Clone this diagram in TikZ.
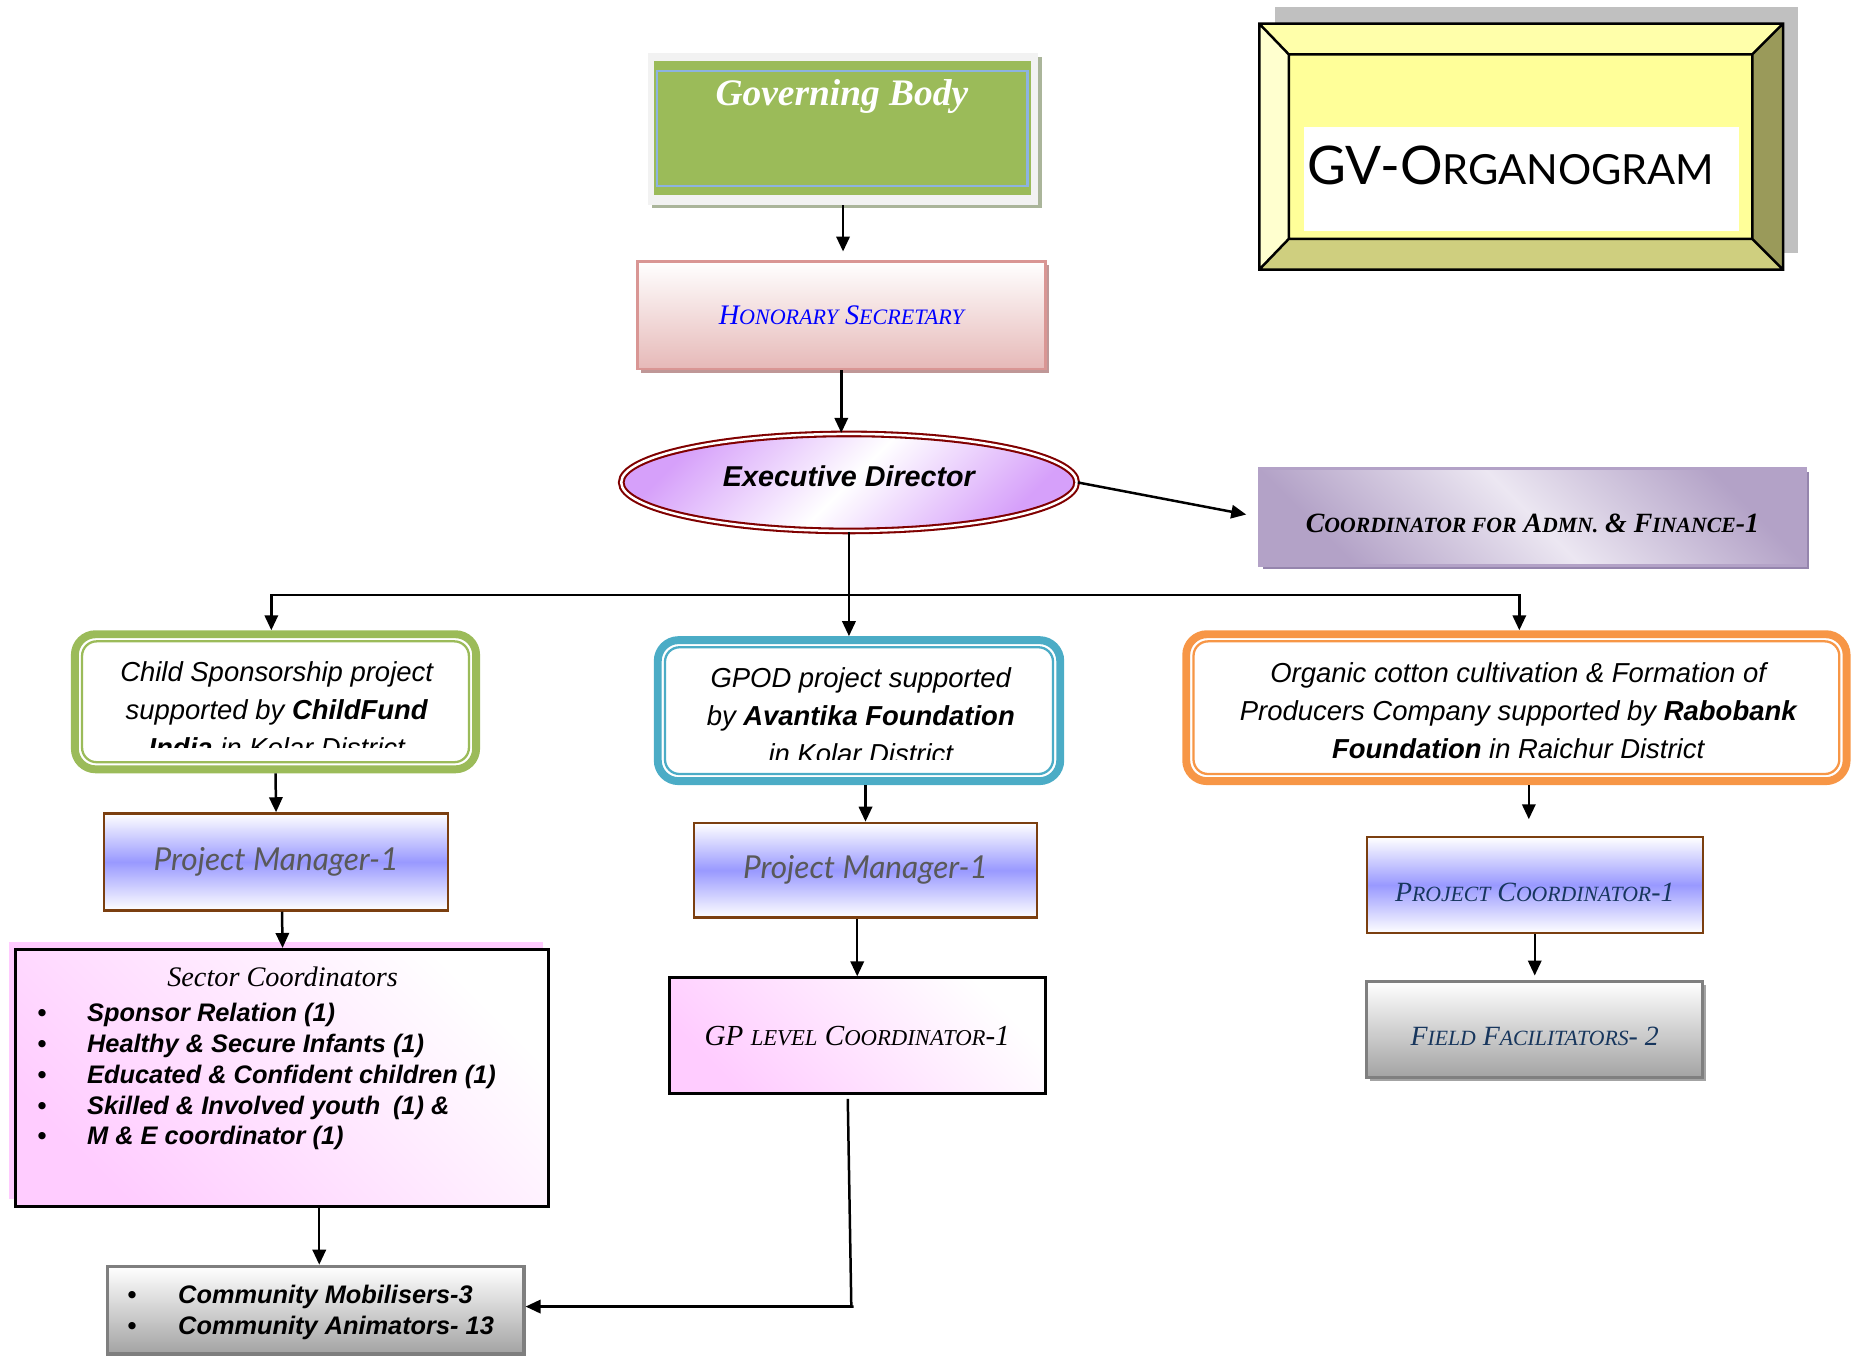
\documentclass[tikz,border=0pt]{standalone}
\usepackage{fontspec}
\setmainfont{Liberation Serif}
\setsansfont{Liberation Sans}
\newfontfamily\comicfont{Lato}
\usetikzlibrary{arrows.meta,shapes.geometric,shadows}
\makeatletter
\newdimen\fscdim
\newcommand\fsc[1]{{\fscdim=\f@size pt\relax\fscdim=0.78\fscdim\fontsize{\strip@pt\fscdim}{\f@baselineskip}\selectfont #1}}
\makeatother
\newcommand\shiftv[2]{\raisebox{#1}[\height][\depth]{#2}}
\definecolor{gbgreen}{HTML}{9BBB59}
\definecolor{gbframe}{HTML}{F2F2F2}
\definecolor{gbshadow}{HTML}{AAB59A}
\definecolor{gbline}{HTML}{8DB3E2}
\definecolor{hsborder}{HTML}{D99694}
\definecolor{hsfill}{HTML}{E6B9B8}
\definecolor{hsshadow}{HTML}{BF9797}
\definecolor{hstext}{HTML}{0000FF}
\definecolor{edred}{HTML}{800000}
\definecolor{edpurple}{HTML}{D6A0FA}
\definecolor{cadark}{HTML}{B3A2C7}
\definecolor{calight}{HTML}{ECE7F2}
\definecolor{cashadow}{HTML}{9585AD}
\definecolor{cspgreen}{HTML}{9BBB59}
\definecolor{gpodblue}{HTML}{4BACC6}
\definecolor{orgorange}{HTML}{F79646}
\definecolor{pmbrown}{HTML}{7B3F10}
\definecolor{pmblue}{HTML}{9999FF}
\definecolor{pmgrey}{HTML}{595959}
\definecolor{pinkish}{HTML}{FFCCFF}
\definecolor{greybot}{HTML}{A3A3A3}
\definecolor{greyborder}{HTML}{7F7F7F}
\definecolor{navy}{HTML}{17365D}
\definecolor{gvshadow}{HTML}{C0C0C0}
\definecolor{gvtop}{HTML}{FFFFAA}
\definecolor{gvleft}{HTML}{FFFFCF}
\definecolor{gvinner}{HTML}{FFFF99}
\definecolor{gvbottom}{HTML}{CFCF7F}
\definecolor{gvright}{HTML}{9A9A5A}
\begin{document}
\begin{tikzpicture}[x=0.01cm,y=-0.01cm,
  arr/.style={-{Triangle[length=3.6pt,width=3.2pt]}, line width=0.6pt, black},
  conn/.style={line width=0.6pt, black},
  projbox/.style={draw=#1, line width=1.9pt, rounded corners=5pt, fill=white, inner sep=0},
  projinner/.style={draw=#1, line width=0.55pt, rounded corners=3.5pt},
  projtxt/.style={font=\sffamily\itshape\fontsize{6.6}{9.1}\selectfont, align=center, inner sep=0},
  pmbox/.style={draw=pmbrown, line width=0.6pt, top color=white, bottom color=white, middle color=pmblue, inner sep=0},
  pmtxt/.style={font=\comicfont\itshape\fontsize{7.6}{9}\selectfont, text=pmgrey},
  sctxt/.style={font=\itshape\fontsize{6.8}{8}\selectfont},
  greybox/.style={draw=greyborder, line width=0.8pt, top color=white, bottom color=greybot, inner sep=0},
  listtxt/.style={font=\sffamily\bfseries\itshape\fontsize{6.1}{7.4}\selectfont, align=left, inner sep=0, anchor=north west},
]
\useasboundingbox (0,0) rectangle (1568,1147);

% ---------- GV-ORGANOGRAM ----------
\fill[gvshadow] (1078,6) rectangle (1521,214);
\fill[gvtop] (1065,20) -- (1508,20) -- (1482,46) -- (1090,46) -- cycle;
\fill[gvleft] (1065,20) -- (1090,46) -- (1090,202) -- (1065,228) -- cycle;
\fill[gvbottom] (1065,228) -- (1090,202) -- (1482,202) -- (1508,228) -- cycle;
\fill[gvright] (1508,20) -- (1482,46) -- (1482,202) -- (1508,228) -- cycle;
\fill[gvinner] (1090,46) rectangle (1482,202);
\draw[line width=0.6pt] (1065,20) rectangle (1508,228) (1090,46) rectangle (1482,202)
  (1065,20) -- (1090,46) (1508,20) -- (1482,46) (1065,228) -- (1090,202) (1508,228) -- (1482,202);
\node[fill=white, minimum width=3.68cm, minimum height=0.88cm, inner sep=0] (gvbox) at (1287,151) {};
\node[anchor=west, inner sep=0] (gvtitle) at ([shift={(3,-11)}]gvbox.west)
  {\comicfont\fontsize{12.8}{14}\selectfont GV-O\fsc{RGANOGRAM}};

% ---------- Governing Body ----------
\node[fill=gbframe, minimum width=3.30cm, minimum height=1.28cm, inner sep=0,
  drop shadow={shadow xshift=0.9pt, shadow yshift=-0.9pt, fill=gbshadow, opacity=1}] (gbf) at (713,109) {};
\node[fill=gbgreen, minimum width=3.19cm, minimum height=1.13cm, inner sep=0] (gb) at (712.5,108.5) {};
\draw[gbline, line width=0.5pt] (556,60) rectangle (869,157);
\node[text=white, font=\bfseries\itshape\fontsize{9}{10}\selectfont, inner sep=0] (gbtext) at (712,82) {Governing Body};

% ---------- Honorary Secretary ----------
\node[draw=hsborder, line width=0.7pt, top color=white, bottom color=hsfill,
  minimum width=3.45cm, minimum height=0.91cm, inner sep=0,
  drop shadow={shadow xshift=0.9pt, shadow yshift=-0.9pt, fill=hsshadow, opacity=1},
  text=hstext, font=\itshape\fontsize{6.8}{8}\selectfont] (hs) at (711.5,266.5)
  {H\fsc{ONORARY} S\fsc{ECRETARY}};

% ---------- Executive Director ----------
\node[ellipse, draw=edred, double=white, double distance=0.6pt, line width=0.5pt,
  top color=edpurple, bottom color=edpurple, middle color=white, shading angle=45,
  minimum width=3.85cm, minimum height=0.82cm, inner sep=0,
  font=\sffamily\bfseries\itshape\fontsize{6.9}{8}\selectfont] (ed) at (718,408)
  {\shiftv{1.6pt}{Executive Director}};

% ---------- Coordinator for Admn & Finance ----------
\node[draw=cadark, line width=0.7pt, top color=cadark, bottom color=cadark, middle color=calight, shading angle=-45,
  minimum width=4.62cm, minimum height=0.82cm, inner sep=0,
  drop shadow={shadow xshift=0.9pt, shadow yshift=-0.9pt, fill=cashadow, opacity=1},
  font=\bfseries\itshape\fontsize{6.7}{8}\selectfont] (ca) at (1296,437)
  {\shiftv{-1.6pt}{C\fsc{OORDINATOR FOR} A\fsc{DMN.} \& F\fsc{INANCE}-1}};

% ---------- Project boxes ----------
\node[projbox=cspgreen, minimum width=3.392cm, minimum height=1.142cm] (csp) at (233,593.5) {};
\draw[projinner=cspgreen] (69.4,542.4) rectangle (396.6,644.6);
\begin{scope}
\clip (60,540) rectangle (406,632);
\node[projtxt] (csptext) at (234,600) {Child Sponsorship project\\supported by \textbf{ChildFund}\\\textbf{India} in Kolar District};
\end{scope}

\node[projbox=gpodblue, minimum width=3.402cm, minimum height=1.192cm] (gpod) at (726.5,601) {};
\draw[projinner=gpodblue] (562.4,547.4) rectangle (890.6,654.6);
\begin{scope}
\clip (553,545) rectangle (900,642);
\node[projtxt] (gpodtext) at (728,605) {GPOD project supported\\by \textbf{Avantika Foundation}\\in Kolar District};
\end{scope}

\node[projbox=orgorange, minimum width=5.582cm, minimum height=1.242cm] (org) at (1282.5,598.5) {};
\draw[projinner=orgorange] (1009.4,542.4) rectangle (1555.6,654.6);
\node[projtxt] (orgtext) at (1284,601) {Organic cotton cultivation \& Formation of\\Producers Company supported by \textbf{Rabobank}\\\textbf{Foundation} in Raichur District};

% ---------- Managers ----------
\node[pmbox, minimum width=2.91cm, minimum height=0.82cm, pmtxt] (pm1) at (233.5,729) {Project Manager-1};
\node[pmbox, minimum width=2.90cm, minimum height=0.80cm, pmtxt] (pm2) at (732,736) {Project Manager-1};
\node[pmbox, minimum width=2.84cm, minimum height=0.81cm, text=navy, font=\itshape\fontsize{6.7}{8}\selectfont] (pc) at (1298,748.5)
  {\shiftv{-1.8pt}{P\fsc{ROJECT} C\fsc{OORDINATOR}-1}};

% ---------- Sector Coordinators ----------
\node[draw=black, line width=0.7pt, top color=pinkish, bottom color=white, shading angle=135,
  minimum width=4.51cm, minimum height=2.17cm, inner sep=0,
  drop shadow={shadow xshift=-1.4pt, shadow yshift=1.7pt, fill=pinkish, opacity=1}] (sc) at (238.5,911.5) {};
\node[sctxt, inner sep=0] (sctitle) at (239,826) {Sector Coordinators};
\node[listtxt] (sclist) at (31,848) {%
\makebox[0.42cm][l]{•}Sponsor Relation (1)\\
\makebox[0.42cm][l]{•}Healthy \& Secure Infants (1)\\
\makebox[0.42cm][l]{•}Educated \& Confident children (1)\\
\makebox[0.42cm][l]{•}Skilled \& Involved youth\enspace(1) \&\\
\makebox[0.42cm][l]{•}M \& E coordinator (1)};

% ---------- GP level Coordinator ----------
\node[draw=black, line width=0.7pt, top color=pinkish, bottom color=white, shading angle=135,
  minimum width=3.18cm, minimum height=0.98cm, inner sep=0,
  font=\itshape\fontsize{7}{8}\selectfont] (gp) at (725,876)
  {GP \fsc{LEVEL} C\fsc{OORDINATOR}-1};

% ---------- Field Facilitators ----------
\node[greybox, minimum width=2.84cm, minimum height=0.81cm,
  drop shadow={shadow xshift=0.9pt, shadow yshift=-0.9pt, fill=greybot, opacity=1},
  text=navy, font=\itshape\fontsize{6.7}{8}\selectfont] (ff) at (1298,870.5)
  {\shiftv{-1.8pt}{F\fsc{IELD} F\fsc{ACILITATORS}- 2}};

% ---------- Community ----------
\node[greybox, minimum width=3.52cm, minimum height=0.74cm] (cm) at (267,1108) {};
\node[listtxt] (cmlist) at (107,1086) {%
\makebox[0.43cm][l]{•}Community Mobilisers-3\\
\makebox[0.43cm][l]{•}Community Animators- 13};

% ---------- Connectors ----------
\draw[arr, shorten >=2pt] (gbf.south) -- (gbf.south |- hs.north);
\draw[arr] (hs.south) -- (hs.south |- ed.north);
\draw[arr, shorten >=2.8pt] (ed.east) -- (ca.west);
\coordinate (hl) at (718,503);
\draw[arr] (ed.south) -- (ed.south |- gpod.north);
\draw[arr] (hl) -| ([xshift=-1pt]csp.north);
\draw[arr] (hl) -| ([xshift=0.7pt]org.north);
\draw[arr] (csp.south) -- (pm1.north);
\draw[arr] (gpod.south -| pm2.north) -- (pm2.north);
\draw[arr, shorten >=4pt] ([shift={(10.5,0)}]org.south) -- ([shift={(-5,0)}]pc.north);
\draw[arr] ([shift={(5,0)}]pm1.south) -- ([shift={(0.5,0)}]sc.north);
\draw[arr] (pm2.south -| gp.north) -- (gp.north);
\draw[arr, shorten >=1pt] (pc.south) -- (ff.north);
\draw[arr] ([shift={(31.5,0)}]sc.south) -- ([shift={(3,0)}]cm.north);
\coordinate (gpcorner) at (720,1105);
\draw[conn] ([shift={(-8,3)}]gp.south) -- (gpcorner) -- ++(2,0);
\draw[arr] (gpcorner) -- (cm.east |- gpcorner);
\end{tikzpicture}
\end{document}
